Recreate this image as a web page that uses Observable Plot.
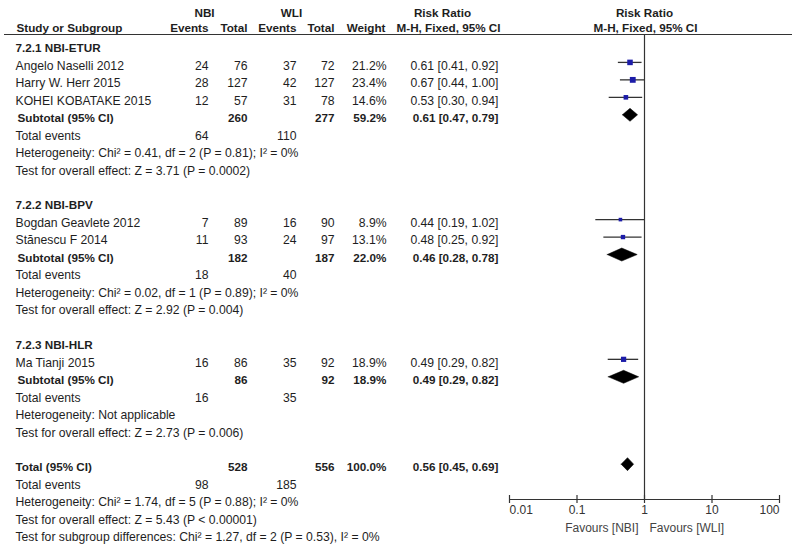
<!DOCTYPE html>
<html>
<head>
<meta charset="utf-8">
<script src="https://cdn.jsdelivr.net/npm/d3@7"></script>
<script src="https://cdn.jsdelivr.net/npm/@observablehq/plot@0.6"></script>
<style>
  html, body { margin: 0; padding: 0; background: #fff; }
  #chart svg { display: block; }
</style>
</head>
<body>
<div id="chart"></div>
<script>
// ---------- data ----------
const studies    = ["Angelo Naselli 2012", "Harry W. Herr 2015", "KOHEI KOBATAKE 2015", "Bogdan Geavlete 2012", "Stănescu F 2014", "Ma Tianji 2015"];
const studyGroup = [0, 0, 0, 1, 1, 2];
const nbiEvents  = [24, 28, 12, 7, 11, 16];
const nbiTotal   = [76, 127, 57, 89, 93, 86];
const wliEvents  = [37, 42, 31, 16, 24, 35];
const wliTotal   = [72, 127, 78, 90, 97, 92];
const weights    = [21.2, 23.4, 14.6, 8.9, 13.1, 18.9];
const rrEst      = [0.61, 0.67, 0.53, 0.44, 0.48, 0.49];
const rrLow      = [0.41, 0.44, 0.30, 0.19, 0.25, 0.29];
const rrHigh     = [0.92, 1.00, 0.94, 1.02, 0.92, 0.82];

const subgroups      = ["7.2.1 NBI-ETUR", "7.2.2 NBI-BPV", "7.2.3 NBI-HLR"];
const subNbiEvents   = [64, 18, 16];
const subWliEvents   = [110, 40, 35];
const subNbiTotal    = [260, 182, 86];
const subWliTotal    = [277, 187, 92];
const subWeight      = [59.2, 22.0, 18.9];
const subEst         = [0.61, 0.46, 0.49];
const subLow         = [0.47, 0.28, 0.29];
const subHigh        = [0.79, 0.78, 0.82];
const subHet = [
  "Heterogeneity: Chi² = 0.41, df = 2 (P = 0.81); I² = 0%",
  "Heterogeneity: Chi² = 0.02, df = 1 (P = 0.89); I² = 0%",
  "Heterogeneity: Not applicable"
];
const subTest = [
  "Test for overall effect: Z = 3.71 (P = 0.0002)",
  "Test for overall effect: Z = 2.92 (P = 0.004)",
  "Test for overall effect: Z = 2.73 (P = 0.006)"
];

const totNbiEvents = 98, totWliEvents = 185;
const totNbiTotal = 528, totWliTotal = 556, totWeight = 100.0;
const totEst = 0.56, totLow = 0.45, totHigh = 0.69;
const totHet = "Heterogeneity: Chi² = 1.74, df = 5 (P = 0.88); I² = 0%";
const totTest = "Test for overall effect: Z = 5.43 (P < 0.00001)";
const subDiffTest = "Test for subgroup differences: Chi² = 1.27, df = 2 (P = 0.53), I² = 0%";

const axisTicks = [0.01, 0.1, 1, 10, 100];
const axisLabels = ["0.01", "0.1", "1", "10", "100"];
const favoursLeft = "Favours [NBI]";
const favoursRight = "Favours [WLI]";

// ---------- layout ----------
const W = 792, H = 549, ML = 509, MR = 13, MT = 13, MB = 12;
const FONT = "'Liberation Sans', Arial, Helvetica, sans-serif";
const FS = 12.2, FSB = 11.7;
const INK = "#1e1e1e";
const MARK_DY = -3.5;
const HEAD2_DY = -3;

const fmtCI = (e, l, h) => `${e.toFixed(2)} [${l.toFixed(2)}, ${h.toFixed(2)}]`;
const fmtW = w => w.toFixed(1) + "%";

const rows = [];
const studyRows = [];
const summaries = [];
let r = 2;
subgroups.forEach((g, gi) => {
  rows.push({row: r++, label: g, bold: true});
  studies.forEach((s, i) => {
    if (studyGroup[i] !== gi) return;
    rows.push({row: r, label: s, nbiE: nbiEvents[i], nbiT: nbiTotal[i], wliE: wliEvents[i], wliT: wliTotal[i],
               weight: fmtW(weights[i]), ci: fmtCI(rrEst[i], rrLow[i], rrHigh[i])});
    studyRows.push({row: r, est: rrEst[i], lo: rrLow[i], hi: rrHigh[i], w: weights[i]});
    r++;
  });
  rows.push({row: r, sub: "Subtotal (95% CI)", nbiT: subNbiTotal[gi], wliT: subWliTotal[gi],
             weight: fmtW(subWeight[gi]), ci: fmtCI(subEst[gi], subLow[gi], subHigh[gi]), bold: true});
  summaries.push({id: gi, row: r, est: subEst[gi], lo: subLow[gi], hi: subHigh[gi]});
  r++;
  rows.push({row: r++, label: "Total events", nbiE: subNbiEvents[gi], wliE: subWliEvents[gi]});
  rows.push({row: r++, label: subHet[gi]});
  rows.push({row: r++, label: subTest[gi]});
  r++;
});
rows.push({row: r, label: "Total (95% CI)", nbiT: totNbiTotal, wliT: totWliTotal,
           weight: fmtW(totWeight), ci: fmtCI(totEst, totLow, totHigh), bold: true});
summaries.push({id: 9, row: r, est: totEst, lo: totLow, hi: totHigh});
r++;
rows.push({row: r++, label: "Total events", nbiE: totNbiEvents, wliE: totWliEvents});
rows.push({row: r++, label: totHet});
rows.push({row: r++, label: totTest});
rows.push({row: r++, label: subDiffTest});

const lastRow = r - 1;
const ROWPX = (H - MT - MB) / lastRow;
const ruleRow = (34 - MT) / ROWPX;
const axisRow = (499 - MT) / ROWPX;
const diamondHalf = 6.5 / ROWPX;

const diamondPts = summaries.flatMap(s => [
  {id: s.id, x: s.lo, y: s.row},
  {id: s.id, x: s.est, y: s.row - diamondHalf},
  {id: s.id, x: s.hi, y: s.row},
  {id: s.id, x: s.est, y: s.row + diamondHalf},
  {id: s.id, x: s.lo, y: s.row}
]);

const columns = [
  {key: "label", x: 15, anchor: "start"},
  {key: "sub", x: 17, anchor: "start"},
  {key: "nbiE", x: 208, anchor: "end"},
  {key: "nbiT", x: 247, anchor: "end"},
  {key: "wliE", x: 296, anchor: "end"},
  {key: "wliT", x: 334, anchor: "end"},
  {key: "weight", x: 386, anchor: "end"},
  {key: "ci", x: 498, anchor: "end"}
];

const headers = [
  {row: 0, text: "NBI", x: 204, anchor: "middle"},
  {row: 0, text: "WLI", x: 291, anchor: "middle"},
  {row: 0, text: "Risk Ratio", x: 442, anchor: "middle"},
  {row: 1, text: "Study or Subgroup", x: 16, anchor: "start"},
  {row: 1, text: "Events", x: 208, anchor: "end"},
  {row: 1, text: "Total", x: 247, anchor: "end"},
  {row: 1, text: "Events", x: 296, anchor: "end"},
  {row: 1, text: "Total", x: 334, anchor: "end"},
  {row: 1, text: "Weight", x: 385, anchor: "end"},
  {row: 1, text: "M-H, Fixed, 95% CI", x: 448, anchor: "middle"}
];

const marks = [];
// table text
columns.forEach(c => {
  [false, true].forEach(b => {
    const data = rows.filter(d => d[c.key] != null && !!d.bold === b);
    if (!data.length) return;
    marks.push(Plot.text(data, {
      y: "row", text: d => String(d[c.key]), frameAnchor: "left", dx: c.x - ML,
      textAnchor: c.anchor, fontWeight: b ? "bold" : "normal", fontSize: b ? FSB : FS, fill: INK
    }));
  });
});
headers.forEach(h => {
  marks.push(Plot.text([h], {
    y: "row", text: "text", frameAnchor: "left", dx: h.x - ML, textAnchor: h.anchor,
    dy: h.row === 1 ? HEAD2_DY : 0,
    fontWeight: "bold", fontSize: FSB, fill: INK
  }));
});
marks.push(Plot.text([1], {x: d => d, y: () => 0, text: () => "Risk Ratio", fontWeight: "bold", fontSize: FSB, fill: INK}));
marks.push(Plot.text([1], {x: d => d, y: () => 1, text: () => "M-H, Fixed, 95% CI", fontWeight: "bold", fontSize: FSB, fill: INK, dx: 1, dy: HEAD2_DY}));

// header rule
marks.push(Plot.ruleY([ruleRow], {stroke: "#333", strokeWidth: 1.2, insetLeft: -(ML - 4), insetRight: -MR}));
// line of no effect
marks.push(Plot.ruleX([1], {y1: ruleRow, y2: axisRow, stroke: "#333", strokeWidth: 1.2}));
// CI lines
marks.push(Plot.ruleY(studyRows, {y: "row", x1: "lo", x2: "hi", stroke: "#333", strokeWidth: 1.3, dy: MARK_DY}));
// squares
marks.push(Plot.dot(studyRows, {x: "est", y: "row", r: "w", symbol: "square", fill: "#1c1ca8", stroke: "none", dy: MARK_DY}));
// diamonds
marks.push(Plot.line(diamondPts, {x: "x", y: "y", z: "id", fill: "#000", stroke: "#000", strokeWidth: 0.5, dy: MARK_DY}));

// axis
marks.push(Plot.ruleY([axisRow], {x1: axisTicks[0], x2: axisTicks[axisTicks.length - 1], stroke: "#333", strokeWidth: 1.2}));
marks.push(Plot.ruleX(axisTicks, {x: d => d, y1: axisRow - 4 / ROWPX, y2: axisRow + 4 / ROWPX, stroke: "#333", strokeWidth: 1.2}));
const tickData = axisTicks.map((t, i) => ({t, label: axisLabels[i], i}));
const n = tickData.length;
marks.push(Plot.text(tickData.filter(d => d.i === 0), {x: "t", y: () => axisRow, text: "label", textAnchor: "start", dy: 11, fontSize: 12, fill: "#333"}));
marks.push(Plot.text(tickData.filter(d => d.i > 0 && d.i < n - 1), {x: "t", y: () => axisRow, text: "label", textAnchor: "middle", dy: 11, fontSize: 12, fill: "#333"}));
marks.push(Plot.text(tickData.filter(d => d.i === n - 1), {x: "t", y: () => axisRow, text: "label", textAnchor: "end", dy: 11, fontSize: 12, fill: "#333"}));
marks.push(Plot.text([1], {x: d => d, y: () => axisRow, text: () => favoursLeft, textAnchor: "end", dx: -6, dy: 29, fontSize: 12, fill: "#444"}));
marks.push(Plot.text([1], {x: d => d, y: () => axisRow, text: () => favoursRight, textAnchor: "start", dx: 5, dy: 29, fontSize: 12, fill: "#444"}));

const chart = Plot.plot({
  width: W, height: H,
  marginLeft: ML, marginRight: MR, marginTop: MT, marginBottom: MB,
  style: {fontFamily: FONT, background: "#fff", color: INK},
  x: {type: "log", domain: [axisTicks[0], axisTicks[axisTicks.length - 1]], axis: null},
  y: {domain: [0, lastRow], reverse: true, axis: null},
  r: {type: "sqrt", domain: [0, 25], range: [0, 3.4]},
  marks
});
document.getElementById("chart").appendChild(chart);
</script>
</body>
</html>
